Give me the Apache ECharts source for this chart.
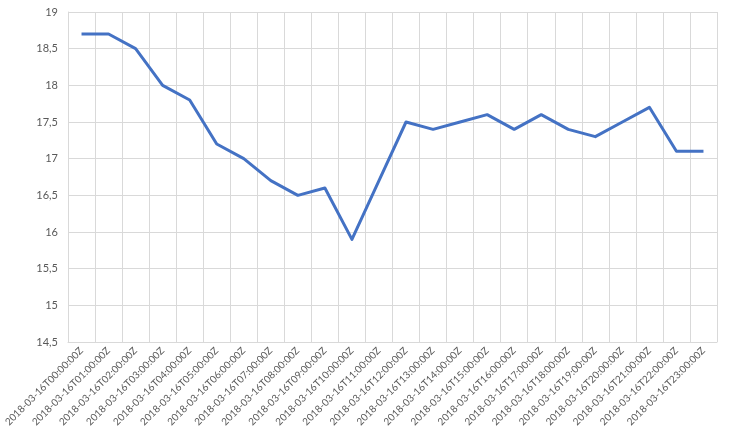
<!DOCTYPE html>
<html>
<head>
<meta charset="utf-8">
<script src="https://cdn.jsdelivr.net/npm/echarts@6/dist/echarts.min.js"></script>
<style>
  html, body { margin: 0; padding: 0; background: #fff; }
  #main { width: 729px; height: 437px; }
</style>
</head>
<body>
<div id="main"></div>
<script>
    // data
    var hours = ['00','01','02','03','04','05','06','07','08','09','10','11',
                 '12','13','14','15','16','17','18','19','20','21','22','23'];
    var categories = hours.map(function (h) { return '2018-03-16T' + h + ':00:00Z'; });
    var values = [18.7, 18.7, 18.5, 18.0, 17.8, 17.2, 17.0, 16.7, 16.5, 16.6, 15.9, 16.7,
                  17.5, 17.4, 17.5, 17.6, 17.4, 17.6, 17.4, 17.3, 17.5, 17.7, 17.1, 17.1];

    var myChart = echarts.init(document.getElementById('main'));

    myChart.setOption({
        animation: false,
        textStyle: { fontFamily: 'Lato' },
        grid: { left: 68, right: 12, top: 12, bottom: 95 },
        xAxis: {
            type: 'category',
            data: categories,
            boundaryGap: true,
            axisLine: { lineStyle: { color: '#d9d9d9' } },
            axisTick: { show: false },
            splitLine: { show: true, lineStyle: { color: '#d9d9d9' } },
            axisLabel: {
                interval: 0,
                rotate: 45,
                color: '#595959',
                fontSize: 10,
                margin: 7
            }
        },
        yAxis: {
            type: 'value',
            min: 14.5,
            max: 19,
            interval: 0.5,
            axisLine: { show: true, lineStyle: { color: '#d9d9d9' } },
            axisTick: { show: false },
            splitLine: { lineStyle: { color: '#d9d9d9' } },
            axisLabel: {
                color: '#595959',
                fontSize: 11,
                margin: 10,
                formatter: function (v) { return String(v).replace('.', ','); }
            }
        },
        series: [{
            type: 'line',
            data: values,
            symbol: 'none',
            lineStyle: { color: '#4472c4', width: 3, join: 'round' }
        }]
    });
</script>
</body>
</html>
